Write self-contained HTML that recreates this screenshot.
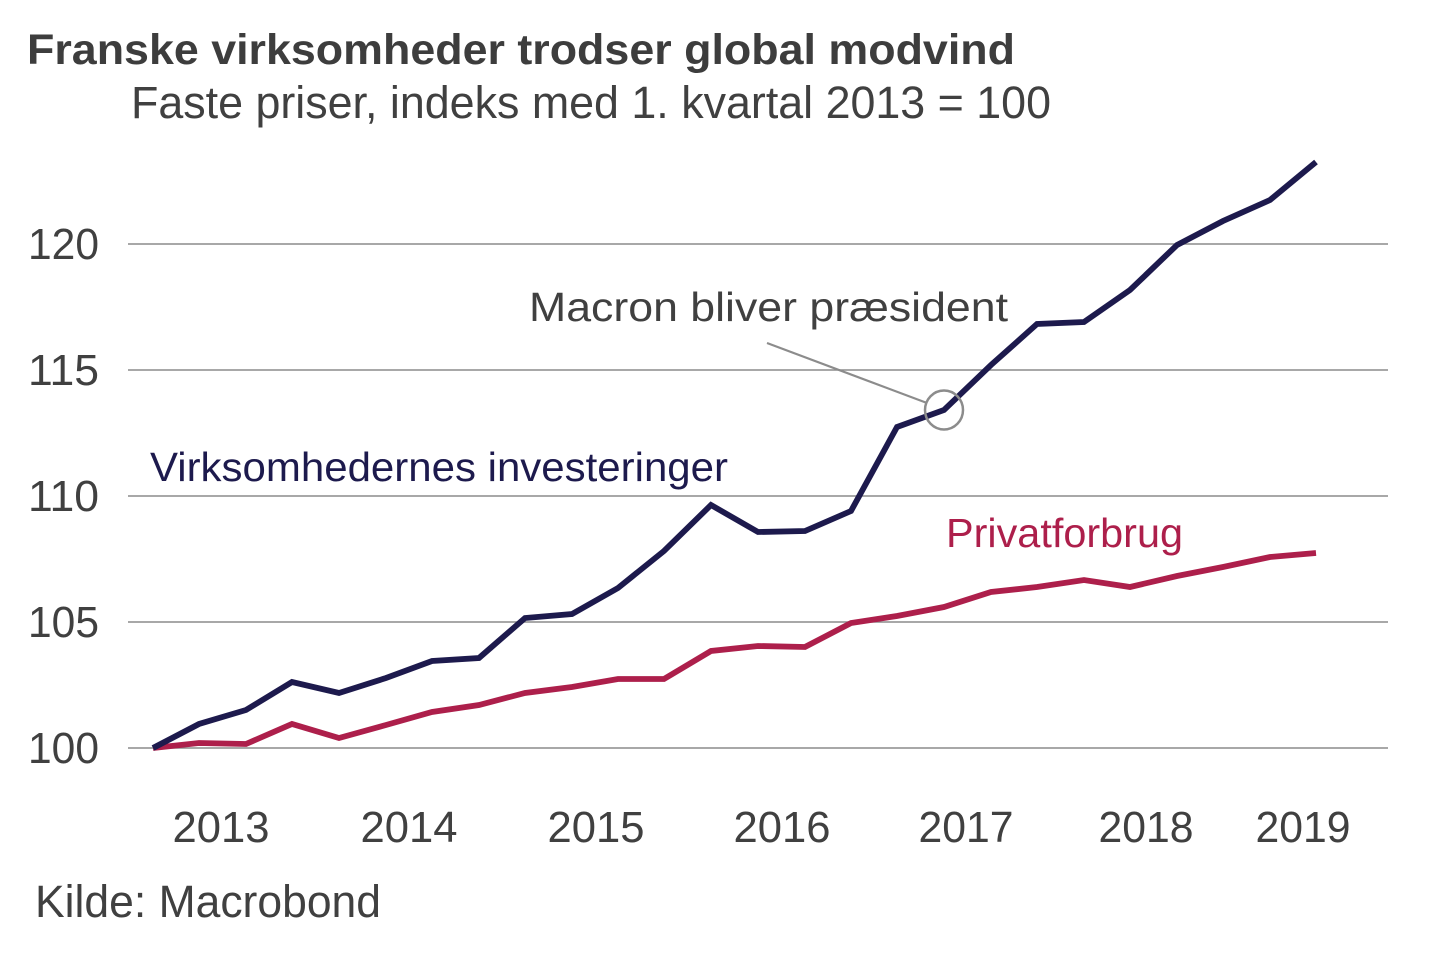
<!DOCTYPE html>
<html>
<head>
<meta charset="utf-8">
<style>
  html, body { margin: 0; padding: 0; background: #ffffff; }
  svg { display: block; }
  text { font-family: "Liberation Sans", Arial, sans-serif; }
</style>
</head>
<body>
<svg width="1440" height="960" viewBox="0 0 1440 960" xmlns="http://www.w3.org/2000/svg">
  <rect width="1440" height="960" fill="#ffffff"/>

  <!-- Title -->
  <text x="27" y="64" font-size="43" font-weight="bold" fill="#3d3d3d" textLength="988" lengthAdjust="spacingAndGlyphs">Franske virksomheder trodser global modvind</text>
  <text x="131" y="118" font-size="45" fill="#404040" textLength="920" lengthAdjust="spacingAndGlyphs">Faste priser, indeks med 1. kvartal 2013 = 100</text>

  <!-- Gridlines -->
  <g stroke="#8c8c8c" stroke-width="1.6">
    <line x1="128" y1="244" x2="1388" y2="244"/>
    <line x1="128" y1="370" x2="1388" y2="370"/>
    <line x1="128" y1="496" x2="1388" y2="496"/>
    <line x1="128" y1="622" x2="1388" y2="622"/>
    <line x1="128" y1="748" x2="1388" y2="748"/>
  </g>

  <!-- Y labels -->
  <g font-size="44" fill="#404040" text-anchor="end">
    <text x="99" y="259" textLength="71" lengthAdjust="spacingAndGlyphs">120</text>
    <text x="99" y="385" textLength="71" lengthAdjust="spacingAndGlyphs">115</text>
    <text x="99" y="511" textLength="71" lengthAdjust="spacingAndGlyphs">110</text>
    <text x="99" y="637" textLength="71" lengthAdjust="spacingAndGlyphs">105</text>
    <text x="99" y="763" textLength="71" lengthAdjust="spacingAndGlyphs">100</text>
  </g>

  <!-- X labels -->
  <g font-size="44" fill="#404040" text-anchor="middle">
    <text x="221" y="842" textLength="97" lengthAdjust="spacingAndGlyphs">2013</text>
    <text x="409" y="842" textLength="97" lengthAdjust="spacingAndGlyphs">2014</text>
    <text x="596" y="842" textLength="97" lengthAdjust="spacingAndGlyphs">2015</text>
    <text x="782" y="842" textLength="97" lengthAdjust="spacingAndGlyphs">2016</text>
    <text x="966" y="842" textLength="95" lengthAdjust="spacingAndGlyphs">2017</text>
    <text x="1146" y="842" textLength="95" lengthAdjust="spacingAndGlyphs">2018</text>
    <text x="1303" y="842" textLength="95" lengthAdjust="spacingAndGlyphs">2019</text>
  </g>

  <!-- Source -->
  <text x="35" y="917" font-size="45" fill="#404040" textLength="346" lengthAdjust="spacingAndGlyphs">Kilde: Macrobond</text>

  <!-- Privatforbrug series -->
  <polyline fill="none" stroke="#ad1f4b" stroke-width="5.8" stroke-linejoin="miter"
    points="153,748 199,743 246,744 292,724 339,738 386,725 432,712 479,705 525,693 572,687 618,679 664,679 711,651 758,646 805,647 851,623 897,616 944,607 991,592 1037,587 1084,580 1130,587 1177,576 1223,567 1270,557 1316,553"/>

  <!-- Investeringer series -->
  <polyline fill="none" stroke="#1d1a4d" stroke-width="5.8" stroke-linejoin="miter"
    points="153,748 199,724 246,710 292,682 339,693 386,678 432,661 479,658 525,618 572,614 618,588 664,551 711,505 758,532 805,531 851,511 897,427 944,410 991,365 1037,324 1084,322 1130,290 1177,245 1223,221 1270,200 1316,162"/>

  <!-- Annotation -->
  <line x1="767" y1="343" x2="927" y2="403" stroke="#8c8c8c" stroke-width="2.2"/>
  <ellipse cx="944" cy="410" rx="19" ry="19.5" fill="none" stroke="#8c8c8c" stroke-width="2.5"/>
  <text x="529" y="321" font-size="41" fill="#404040" textLength="479" lengthAdjust="spacingAndGlyphs">Macron bliver præsident</text>

  <!-- Series labels -->
  <text x="150" y="481" font-size="41" fill="#1d1a4d" textLength="578" lengthAdjust="spacingAndGlyphs">Virksomhedernes investeringer</text>
  <text x="946" y="547" font-size="41" fill="#ad1f4b" textLength="237" lengthAdjust="spacingAndGlyphs">Privatforbrug</text>
</svg>
</body>
</html>
